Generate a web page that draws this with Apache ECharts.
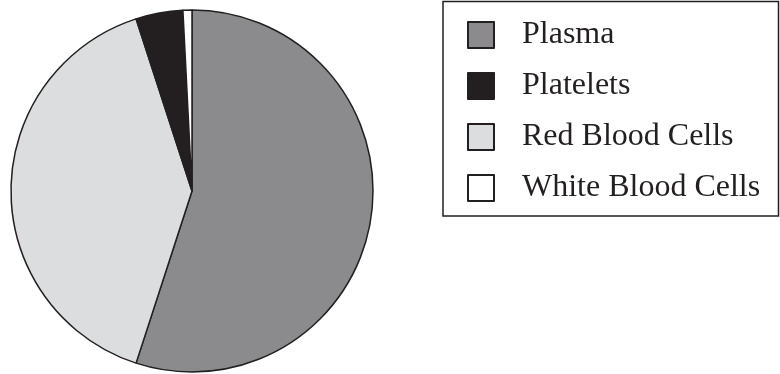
<!DOCTYPE html>
<html>
<head>
<meta charset="utf-8">
<script src="https://cdn.jsdelivr.net/npm/echarts@6/dist/echarts.min.js"></script>
<style>
  html, body { margin: 0; padding: 0; background: #ffffff; }
  #chart { width: 780px; height: 374px; }
</style>
</head>
<body>
<div id="chart"></div>
<script>
// Blood composition (percent of volume), in drawing order clockwise from 12 o'clock
const components = ['Plasma', 'Red Blood Cells', 'Platelets', 'White Blood Cells'];
const shares = [55, 40, 4.2, 0.8];
const fills = ['#8b8b8e', '#dcdddf', '#231f20', '#ffffff'];
// Legend lists the components alphabetically
const legendOrder = ['Plasma', 'Platelets', 'Red Blood Cells', 'White Blood Cells'];

const chart = echarts.init(document.getElementById('chart'), null, { renderer: 'canvas' });

const slices = components.map((name, i) => ({
  name: name,
  value: shares[i],
  itemStyle: { color: fills[i] }
}));

chart.setOption({
  animation: false,
  backgroundColor: '#ffffff',
  // Frame around the legend
  graphic: [{
    type: 'rect',
    shape: { x: 443, y: 1.5, width: 335.5, height: 214.5 },
    style: { fill: 'none', stroke: '#231f20', lineWidth: 1.5 },
    z: 0
  }],
  legend: {
    data: legendOrder,
    orient: 'vertical',
    left: 467,
    top: 19,
    padding: 0,
    itemWidth: 26,
    itemHeight: 26,
    itemGap: 19,
    icon: 'rect',
    itemStyle: { borderColor: '#231f20', borderWidth: 2 },
    textStyle: {
      fontFamily: 'Liberation Serif',
      fontSize: 32,
      color: '#231f20',
      lineHeight: 28,
      padding: [0, 0, 0, 23]
    },
    selectedMode: false
  },
  series: [{
    type: 'pie',
    center: [192, 191],
    radius: 181,
    startAngle: 90,
    clockwise: true,
    avoidLabelOverlap: false,
    label: { show: false },
    labelLine: { show: false },
    emphasis: { disabled: true },
    itemStyle: { borderColor: '#231f20', borderWidth: 1.5 },
    data: slices
  }]
});
</script>
</body>
</html>
